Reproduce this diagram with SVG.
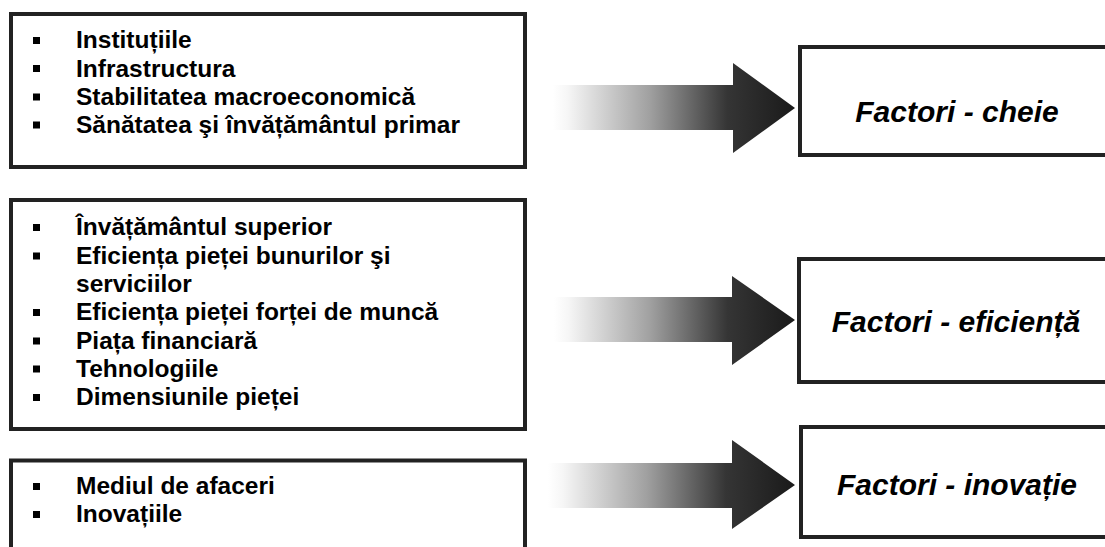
<svg xmlns="http://www.w3.org/2000/svg" width="1105" height="547" viewBox="0 0 1105 547">
<style>
.box{fill:#fff;stroke:#222;stroke-width:4}
.item{font-family:"Liberation Sans",Arial,sans-serif;font-weight:bold;font-size:24.5px;fill:#000}
.title{font-family:"Liberation Sans",Arial,sans-serif;font-weight:bold;font-style:italic;font-size:30px;fill:#000;text-anchor:middle}
.bul{fill:#000}
.arrow{fill:url(#grad)}
</style>
<defs>
<linearGradient id="grad" x1="0" y1="0" x2="1" y2="0">
<stop offset="0" stop-color="#ffffff"/>
<stop offset="0.06" stop-color="#f6f6f6"/>
<stop offset="0.4" stop-color="#a0a0a0"/>
<stop offset="0.72" stop-color="#353535"/>
<stop offset="1" stop-color="#1a1a1a"/>
</linearGradient>
</defs>
<rect width="1105" height="547" fill="#fff"/>

<g id="left-box-1">
<rect class="box" x="11" y="14" width="514" height="153"/>
<rect class="bul" x="33" y="37" width="7" height="7"/>
<rect class="bul" x="33" y="65" width="7" height="7"/>
<rect class="bul" x="33" y="93.5" width="7" height="7"/>
<rect class="bul" x="33" y="121.5" width="7" height="7"/>
<text class="item" x="76" y="48">Instituțiile</text>
<text class="item" x="76" y="76.5">Infrastructura</text>
<text class="item" x="76" y="104.5">Stabilitatea macroeconomică</text>
<text class="item" x="76" y="133">Sănătatea şi învățământul primar</text>
</g>

<g id="left-box-2">
<rect class="box" x="11" y="200" width="514" height="229"/>
<rect class="bul" x="33" y="224" width="7" height="7"/>
<rect class="bul" x="33" y="252.5" width="7" height="7"/>
<rect class="bul" x="33" y="309" width="7" height="7"/>
<rect class="bul" x="33" y="337.5" width="7" height="7"/>
<rect class="bul" x="33" y="365.5" width="7" height="7"/>
<rect class="bul" x="33" y="394" width="7" height="7"/>
<text class="item" x="76" y="235">Învățământul superior</text>
<text class="item" x="76" y="263.5">Eficiența pieței bunurilor şi</text>
<text class="item" x="76" y="291.5">serviciilor</text>
<text class="item" x="76" y="320">Eficiența pieței forței de muncă</text>
<text class="item" x="76" y="348.5">Piața financiară</text>
<text class="item" x="76" y="376.5">Tehnologiile</text>
<text class="item" x="76" y="405">Dimensiunile pieței</text>
</g>

<g id="left-box-3">
<rect class="box" x="11" y="460.5" width="514" height="120"/>
<rect class="bul" x="33" y="483" width="7" height="7"/>
<rect class="bul" x="33" y="511" width="7" height="7"/>
<text class="item" x="76" y="494">Mediul de afaceri</text>
<text class="item" x="76" y="522">Inovațiile</text>
</g>

<g id="right-box-1">
<rect class="box" x="800" y="47" width="330" height="108"/>
<text class="title" x="957" y="122">Factori - cheie</text>
</g>

<g id="right-box-2">
<rect class="box" x="799" y="259" width="330" height="123"/>
<text class="title" x="956" y="332">Factori - eficiență</text>
</g>

<g id="right-box-3">
<rect class="box" x="801" y="427" width="330" height="110"/>
<text class="title" x="957" y="495">Factori - inovație</text>
</g>

<g id="connectors">
<polygon class="arrow" points="553,85 733,85 733,63 795,108 733,153 733,130 553,130"/>
<polygon class="arrow" points="554,297 732,297 732,276 795,320 732,365 732,342 554,342"/>
<polygon class="arrow" points="548,463 732,463 732,440 795,485 732,529 732,508 548,508"/>
</g>
</svg>
